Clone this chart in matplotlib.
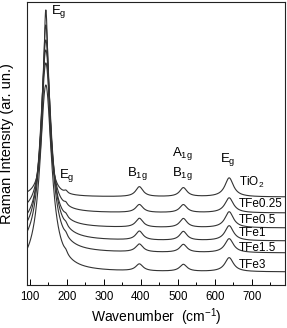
import numpy as np
import matplotlib
matplotlib.use("Agg")
import matplotlib.pyplot as plt
from matplotlib.ticker import MultipleLocator

plt.rcParams["font.family"] = ["Liberation Sans", "DejaVu Sans"]
plt.rcParams["mathtext.fontset"] = "custom"
plt.rcParams["mathtext.rm"] = "Liberation Sans"
plt.rcParams["mathtext.it"] = "Liberation Sans"

# samples, stacked from top to bottom
samples = ["TiO$_2$", "TFe0.25", "TFe0.5", "TFe1", "TFe1.5", "TFe3"]
offsets = [88, 72, 57, 44, 32, 13]

# Raman modes of anatase (cm-1)
mode_pos = [143, 197, 396, 515, 639]
mode_hw = [5, 12, 12, 14]            # half-widths of the weaker modes
main_hw = [8.5, 12, 14.5, 17, 18, 19]  # Eg(143) half-width per sample
mode_height = [
    [187, 2.5, 10, 9, 19],
    [188, 2.5, 8, 8, 15],
    [188, 2.5, 9, 9, 16],
    [191, 2.5, 9, 9, 15],
    [190, 2.5, 8, 8, 14],
    [187, 2.5, 7, 7, 14],
]

mode_labels = ["E$_g$", "E$_g$", "B$_{1g}$", "A$_{1g}$", "B$_{1g}$", "E$_g$"]
mode_label_x = [157, 200, 391, 512, 512, 634]
mode_label_y = [273, 110, 112, 132, 112, 125]

sample_label_y = [103, 81, 65, 52, 37, 20]

wn = np.linspace(92, 790, 2000)


def lorentz(x, x0, hw, h):
    return h * hw ** 2 / ((x - x0) ** 2 + hw ** 2)


fig = plt.figure(figsize=(2.87, 3.28), dpi=100)
ax = fig.add_axes([27 / 287, 43 / 328, 258 / 287, 283 / 328])

line_color = "#333333"
for i, name in enumerate(samples):
    widths = [main_hw[i]] + mode_hw
    y = np.full_like(wn, offsets[i], dtype=float)
    for x0, hw, h in zip(mode_pos, widths, mode_height[i]):
        y += lorentz(wn, x0, hw, h)
    ax.plot(wn, y, color=line_color, lw=0.8)
    ax.text(665, sample_label_y[i], name, fontsize=8.5, ha="left", va="center")

for lab, lx, ly in zip(mode_labels, mode_label_x, mode_label_y):
    ha = "left" if lx == 157 else "center"
    ax.text(lx, ly, lab, fontsize=9.5, ha=ha, va="center")

ax.set_xlim(92, 790)
ax.set_ylim(0, 283)
ax.xaxis.set_major_locator(MultipleLocator(100))
ax.xaxis.set_minor_locator(MultipleLocator(50))
ax.tick_params(axis="x", which="both", direction="in", labelsize=8.3, pad=4)
ax.tick_params(axis="x", which="major", length=4.5, width=0.7)
ax.tick_params(axis="x", which="minor", length=2.5, width=0.7)
ax.set_yticks([])
for sp in ax.spines.values():
    sp.set_linewidth(0.8)
    sp.set_color("#222222")

ax.set_xlabel("Wavenumber  (cm$^{-1}$)", fontsize=10, labelpad=3)
ax.set_ylabel("Raman Intensity (ar. un.)", fontsize=10.5)
ax.yaxis.set_label_coords(-0.052, 0.5)

fig.savefig("out.png", dpi=100)
